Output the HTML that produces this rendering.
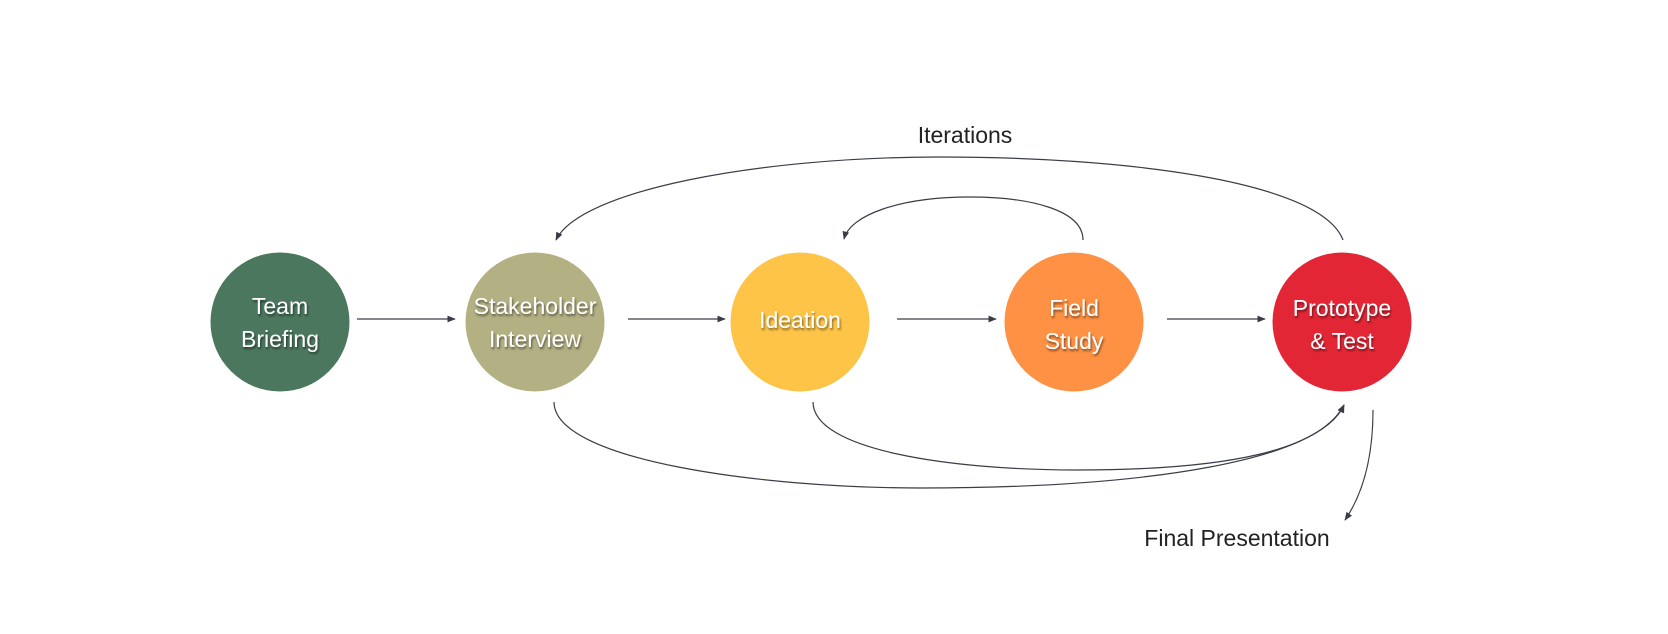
<!DOCTYPE html>
<html><head><meta charset="utf-8"><style>
body{margin:0;background:#fff;width:1668px;height:634px;overflow:hidden}
svg{display:block}
.c{font-family:"Liberation Sans",sans-serif;font-size:23px;fill:#fff;text-anchor:middle;filter:url(#sh)}
.l{font-family:"Liberation Sans",sans-serif;font-size:23px;fill:#222;text-anchor:middle}
path,line{fill:none;stroke:#3a3d48;stroke-width:1.2}
</style></head><body>
<svg width="1668" height="634" viewBox="0 0 1668 634">
<defs>
<marker id="a" viewBox="0 0 10 10" refX="9" refY="5" markerWidth="7" markerHeight="7" orient="auto-start-reverse"><path d="M0,1 L10,5 L0,9 z" style="fill:#3a3d48;stroke:none"/></marker>
<filter id="sh"><feDropShadow dx="1" dy="2" stdDeviation="1" flood-color="#000" flood-opacity="0.5"/></filter>
</defs>
<circle cx="280" cy="322" r="69.5" fill="#4a775e"/>
<circle cx="535" cy="322" r="69.5" fill="#b3b083"/>
<circle cx="800" cy="322" r="69.5" fill="#fec447"/>
<circle cx="1074" cy="322" r="69.5" fill="#fe9143"/>
<circle cx="1342" cy="322" r="69.5" fill="#e32636"/>
<text class="c" x="280" y="314">Team</text><text class="c" x="280" y="347">Briefing</text>
<text class="c" x="535" y="314">Stakeholder</text><text class="c" x="535" y="347">Interview</text>
<text class="c" x="800" y="328">Ideation</text>
<text class="c" x="1074" y="316">Field</text><text class="c" x="1074" y="349">Study</text>
<text class="c" x="1342" y="316">Prototype</text><text class="c" x="1342" y="349">&amp; Test</text>
<line x1="357" y1="319" x2="455" y2="319" marker-end="url(#a)"/>
<line x1="628" y1="319" x2="725" y2="319" marker-end="url(#a)"/>
<line x1="897" y1="319" x2="996" y2="319" marker-end="url(#a)"/>
<line x1="1167" y1="319" x2="1265" y2="319" marker-end="url(#a)"/>
<path d="M1343,240 C1320,180 1120,157 940,157 C760,157 580,190 556,240" marker-end="url(#a)"/>
<path d="M1083,240 C1083,210 1030,197 970,197 C900,197 850,215 844,239" marker-end="url(#a)"/>
<path d="M554,402 C554,460 760,488 921,488 C1150,488 1320,460 1344,405" marker-end="url(#a)"/>
<path d="M813,402 C813,450 950,470 1077,470 C1230,470 1320,450 1344,405" marker-end="url(#a)"/>
<path d="M1373,410 C1373,460 1362,495 1345,520" marker-end="url(#a)"/>
<text class="l" x="965" y="143">Iterations</text>
<text class="l" x="1237" y="546">Final Presentation</text>
</svg>
</body></html>
